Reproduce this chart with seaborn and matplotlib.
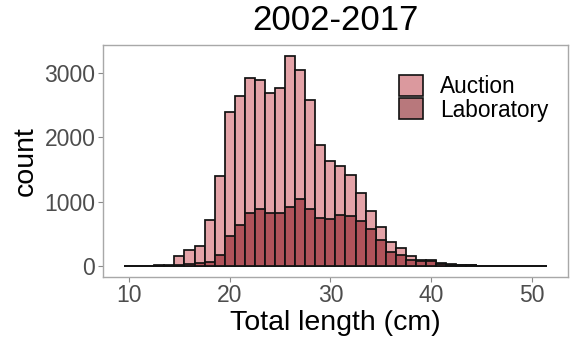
import numpy as np
import pandas as pd
import matplotlib
matplotlib.use("Agg")
import matplotlib.pyplot as plt
from matplotlib.patches import Patch
import seaborn as sns

# ---- data ----
length_cm = list(range(10, 52))
auction = [1, 2, 5, 12, 20, 158, 245, 310, 714, 1392,
           2400, 2640, 2915, 2888, 2695, 2765, 3265, 3040, 2578, 1885,
           1631, 1560, 1413, 1129, 854, 601, 368, 275, 155, 93,
           93, 40, 25, 18, 12, 8, 5, 4, 3, 2, 1, 1]
laboratory = [0, 1, 2, 5, 8, 15, 31, 52, 57, 171,
              468, 637, 830, 890, 828, 828, 925, 1038, 893, 740,
              730, 800, 770, 695, 570, 404, 220, 171, 93, 75,
              80, 30, 20, 14, 10, 6, 4, 3, 2, 1, 1, 0]
series_names = ["Auction", "Laboratory"]
title = "2002-2017"
x_ticks = [10, 20, 30, 40, 50]
y_ticks = [0, 1000, 2000, 3000]

bar_colors = {"Auction": "#e4a3a8", "Laboratory": "#b0535a"}
key_colors = {"Auction": "#db999e", "Laboratory": "#b8787c"}

df_a = pd.DataFrame({"length": length_cm, "count": auction})
df_l = pd.DataFrame({"length": length_cm, "count": laboratory})

sns.set_theme(style="white")
plt.rcParams["font.family"] = ["Liberation Sans", "DejaVu Sans"]

fig = plt.figure(figsize=(5.7, 3.41), dpi=100)
ax = fig.add_axes([103 / 570, (341 - 276.7) / 341, (567.8 - 103) / 570, (276.7 - 45) / 341])

common = dict(x="length", weights="count", binwidth=1, binrange=(9.5, 51.5),
              edgecolor="#111111", linewidth=1.25, alpha=1, ax=ax, legend=False)
sns.histplot(data=df_a, color=bar_colors["Auction"], **common)
sns.histplot(data=df_l, color=bar_colors["Laboratory"], **common)

ax.set_xlim(7.4, 53.6)
ax.set_ylim(-166, 3435)
ax.set_xticks(x_ticks)
ax.set_yticks(y_ticks)
ax.tick_params(axis="both", which="both", length=3.5, width=0.8, color="#8a8a8a",
               labelcolor="#4d4d4d", labelsize=16.5, pad=2, bottom=True, left=True)
for s in ax.spines.values():
    s.set_color("#a8a8a8")
    s.set_linewidth(1.0)
ax.grid(False)

ax.set_xlabel("Total length (cm)", fontsize=20.5, color="black", labelpad=2)
ax.set_ylabel("count", fontsize=20.5, color="black", labelpad=4)
ax.set_title(title, fontsize=25, color="black", pad=11)

handles = [Patch(facecolor=key_colors[n], edgecolor="#111111", linewidth=1.2, label=n)
           for n in series_names]
leg = ax.legend(handles=handles, loc="upper left", bbox_to_anchor=(399 / 570, 266 / 341),
                bbox_transform=fig.transFigure, frameon=False, fontsize=16.3,
                handlelength=1.06, handleheight=1.06, labelspacing=0.0,
                handletextpad=0.75, borderpad=0, borderaxespad=0)
for t in leg.get_texts():
    t.set_color("black")

fig.savefig("out.png", dpi=100)
